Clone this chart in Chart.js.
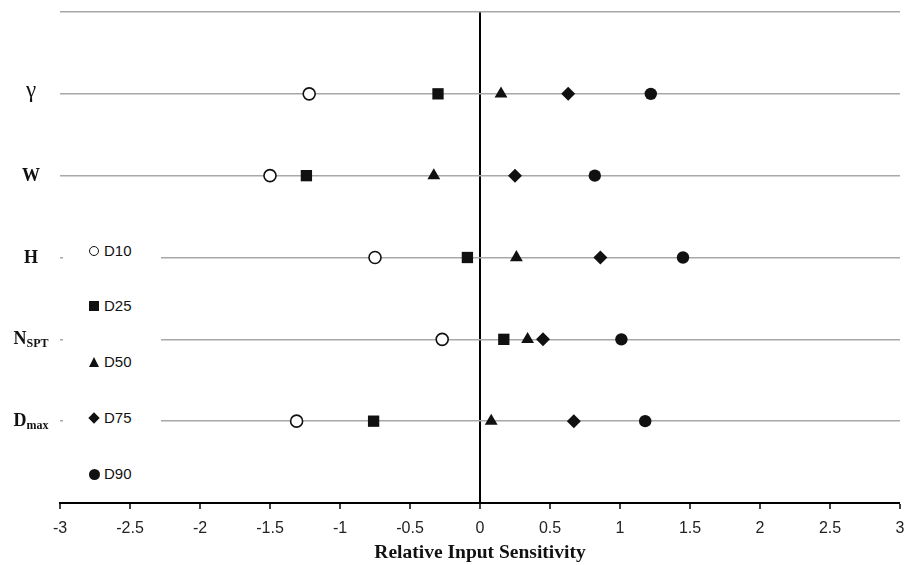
<!DOCTYPE html>
<html>
<head>
<meta charset="utf-8">
<script src="https://cdn.jsdelivr.net/npm/chart.js@4.4.1/dist/chart.umd.min.js"></script>
<style>
    body { margin: 0; background: #fff; }
    #wrap { position: relative; width: 919px; height: 565px; }
    #legend {
        position: absolute; left: 63px; top: 236px; width: 98px; height: 254px;
        background: #fff; font-family: "Liberation Sans", Arial, sans-serif; font-size: 15px; color: #111;
    }
    .item { position: absolute; left: 0; height: 16px; line-height: 16px; }
    .item span.txt { position: absolute; left: 41px; top: 0; }
    .mk { position: absolute; box-sizing: border-box; }
</style>
</head>
<body>
<div id="wrap">
    <canvas id="chart" width="919" height="565"></canvas>
    <div id="legend"></div>
</div>
<script>
// Sensibilidade relativa por variavel de entrada
const rowLabels = [['γ', ''], ['W', ''], ['H', ''], ['N', 'SPT'], ['D', 'max']];
const rowY = [5, 4, 3, 2, 1];

const seriesNames = ['D10', 'D25', 'D50', 'D75', 'D90'];
const d10 = [-1.22, -1.50, -0.75, -0.27, -1.31];
const d25 = [-0.30, -1.24, -0.09, 0.17, -0.76];
const d50 = [0.15, -0.33, 0.26, 0.34, 0.08];
const d75 = [0.63, 0.25, 0.86, 0.45, 0.67];
const d90 = [1.22, 0.82, 1.45, 1.01, 1.18];

const xTicks = [-3, -2.5, -2, -1.5, -1, -0.5, 0, 0.5, 1, 1.5, 2, 2.5, 3];

const styles = [
    { pointStyle: 'circle', radius: 6, bg: '#fff', border: '#111', bw: 1.6 },
    { pointStyle: 'rect', radius: 8, bg: '#111', border: '#111', bw: 0 },
    { pointStyle: 'triangle', radius: 7.4, bg: '#111', border: '#111', bw: 0 },
    { pointStyle: 'rectRot', radius: 7, bg: '#111', border: '#111', bw: 0 },
    { pointStyle: 'circle', radius: 6.2, bg: '#111', border: '#111', bw: 0 }
];

const allSeries = [d10, d25, d50, d75, d90];

const datasets = allSeries.map((vals, i) => ({
    label: seriesNames[i],
    data: vals.map((v, j) => ({ x: v, y: rowY[j] })),
    pointStyle: styles[i].pointStyle,
    pointRadius: styles[i].radius,
    pointHoverRadius: styles[i].radius,
    backgroundColor: styles[i].bg,
    borderColor: styles[i].border,
    pointBorderWidth: styles[i].bw,
    showLine: false
}));

// rotulos do eixo y (com subscrito)
const rowLabelPlugin = {
    id: 'rowLabels',
    afterDraw(chart) {
        const ctx = chart.ctx;
        const yScale = chart.scales.y;
        ctx.save();
        ctx.fillStyle = '#111';
        ctx.textBaseline = 'alphabetic';
        rowLabels.forEach(([main, sub], i) => {
            const py = yScale.getPixelForValue(rowY[i]);
            const isGreek = main === 'γ';
            const mainFont = isGreek ? '23px "Liberation Serif", serif' : 'bold 18px "Liberation Serif", serif';
            const subFont = 'bold 12px "Liberation Serif", serif';
            ctx.font = mainFont;
            const wMain = ctx.measureText(main).width;
            ctx.font = subFont;
            const wSub = sub ? ctx.measureText(sub).width : 0;
            const x0 = 31 - (wMain + wSub) / 2;
            const base = py + (isGreek ? 3 : 5);
            ctx.font = mainFont;
            ctx.fillText(main, x0, base);
            if (sub) {
                ctx.font = subFont;
                ctx.fillText(sub, x0 + wMain, base + 3);
            }
        });
        ctx.restore();
    }
};

new Chart(document.getElementById('chart'), {
    type: 'scatter',
    data: { datasets },
    options: {
        responsive: false,
        devicePixelRatio: 1,
        animation: false,
        layout: { padding: { left: 60, right: 19, top: 12, bottom: 0 } },
        plugins: {
            legend: { display: false },
            tooltip: { enabled: false }
        },
        scales: {
            x: {
                type: 'linear',
                min: -3,
                max: 3,
                afterBuildTicks: (axis) => { axis.ticks = xTicks.map(v => ({ value: v })); },
                afterFit: (axis) => { axis.height = 62; },
                grid: {
                    color: (c) => (c.tick && c.tick.value === 0) ? '#000' : 'rgba(0,0,0,0)',
                    lineWidth: (c) => (c.tick && c.tick.value === 0) ? 2 : 0,
                    tickColor: '#000',
                    tickWidth: 1.5,
                    tickLength: 6
                },
                border: { color: '#000', width: 2 },
                ticks: {
                    color: '#222',
                    font: { family: '"Liberation Sans", Arial, sans-serif', size: 16 },
                    padding: 10,
                    maxRotation: 0,
                    autoSkip: false,
                    callback: (v) => String(v)
                },
                title: {
                    display: true,
                    text: 'Relative Input Sensitivity',
                    color: '#111',
                    font: { family: '"Liberation Serif", serif', size: 19.5, weight: 'bold' },
                    padding: { top: 1, bottom: 0 }
                }
            },
            y: {
                min: 0,
                max: 6,
                ticks: { display: false, stepSize: 1 },
                grid: {
                    color: (c) => (c.tick && c.tick.value === 0) ? 'rgba(0,0,0,0)' : '#a8a8a8',
                    lineWidth: 1.6,
                    drawTicks: false
                },
                border: { display: false }
            }
        }
    },
    plugins: [rowLabelPlugin]
});

// legenda em HTML sobre a area do grafico
const legendTops = [7, 62, 118, 174, 230];
const legendEl = document.getElementById('legend');
seriesNames.forEach((name, i) => {
    const item = document.createElement('div');
    item.className = 'item';
    item.style.top = legendTops[i] + 'px';
    const mk = document.createElement('div');
    mk.className = 'mk';
    const cx = 31, cy = 8;
    if (i === 0) {
        Object.assign(mk.style, { width: '10px', height: '10px', left: (cx - 5) + 'px', top: (cy - 5) + 'px', border: '1.5px solid #111', borderRadius: '50%', background: '#fff' });
    } else if (i === 1) {
        Object.assign(mk.style, { width: '10px', height: '10px', left: (cx - 5) + 'px', top: (cy - 5) + 'px', background: '#111' });
    } else if (i === 2) {
        Object.assign(mk.style, { width: 0, height: 0, left: (cx - 5) + 'px', top: (cy - 5) + 'px', borderLeft: '5px solid transparent', borderRight: '5px solid transparent', borderBottom: '10px solid #111' });
    } else if (i === 3) {
        Object.assign(mk.style, { width: '8px', height: '8px', left: (cx - 4) + 'px', top: (cy - 4) + 'px', background: '#111', transform: 'rotate(45deg)' });
    } else {
        Object.assign(mk.style, { width: '11px', height: '11px', left: (cx - 5.5) + 'px', top: (cy - 5.5) + 'px', borderRadius: '50%', background: '#111' });
    }
    const txt = document.createElement('span');
    txt.className = 'txt';
    txt.textContent = name;
    item.appendChild(mk);
    item.appendChild(txt);
    legendEl.appendChild(item);
});
</script>
</body>
</html>
